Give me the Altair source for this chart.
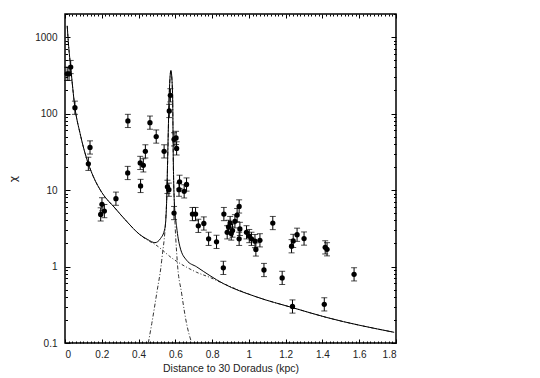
import altair as alt
import pandas as pd

# ---------------- data ----------------
pt_x = [0.012, 0.022, 0.031, 0.054, 0.127, 0.136, 0.194, 0.201, 0.214, 0.277,
        0.341, 0.342, 0.411, 0.409, 0.426, 0.437, 0.462, 0.496, 0.539, 0.557,
        0.565, 0.567, 0.573, 0.593, 0.604, 0.607, 0.593, 0.620, 0.623, 0.648,
        0.661, 0.693, 0.710, 0.725, 0.755, 0.781, 0.824, 0.861, 0.864, 0.882,
        0.889, 0.898, 0.904, 0.911, 0.924, 0.936, 0.947, 0.951, 0.947, 0.987,
        1.002, 1.014, 1.033, 1.038, 1.060, 1.082, 1.130, 1.181, 1.232, 1.241,
        1.262, 1.237, 1.300, 1.415, 1.425, 1.410, 1.572]
pt_y = [330, 330, 405, 119, 22, 36, 4.8, 6.5, 5.3, 7.7,
        16.7, 80, 11.3, 22.6, 21, 32, 76, 50, 32, 11,
        10.1, 108, 173, 46, 48, 35, 5.0, 10.1, 12.8, 9.6,
        11.8, 4.85, 4.85, 3.4, 3.65, 2.3, 2.1, 0.96, 4.85, 2.8,
        3.3, 3.7, 2.7, 2.95, 3.9, 4.7, 6.1, 3.1, 2.3, 2.8,
        2.5, 2.3, 2.15, 1.67, 2.2, 0.9, 3.7, 0.71, 1.84, 2.16,
        2.6, 0.30, 2.32, 1.78, 1.68, 0.32, 0.79]
ERR_FACTOR = 1.22  # error bars are about +/-0.085 dex

# total model (solid line)
model_x = [0.012, 0.020, 0.031, 0.054, 0.082, 0.127, 0.154, 0.200, 0.272, 0.335,
           0.408, 0.450, 0.489, 0.520, 0.543, 0.553, 0.558, 0.567, 0.576, 0.585,
           0.589, 0.594, 0.607, 0.625, 0.661, 0.716, 0.788, 0.860, 1.042, 1.237,
           1.422, 1.790]
model_y = [1400, 750, 400, 120, 55, 22, 15, 9.3, 5.8, 3.9,
           2.6, 2.25, 2.05, 2.33, 3.14, 7.4, 24.5, 182, 366, 182,
           24.5, 7.4, 3.3, 1.81, 1.21, 0.99, 0.76, 0.60, 0.40, 0.29,
           0.216, 0.138]

# smooth (power-law) component, dotted
pl_x = [0.012, 0.020, 0.031, 0.054, 0.082, 0.127, 0.154, 0.200, 0.272, 0.335,
        0.408, 0.450, 0.489, 0.589, 0.661, 0.716, 0.788, 0.860, 1.042, 1.237,
        1.422, 1.790]
pl_y = [1400, 750, 400, 120, 55, 22, 15, 9.3, 5.8, 3.9,
        2.6, 2.2, 1.95, 1.25, 0.98, 0.84, 0.72, 0.60, 0.40, 0.29,
        0.216, 0.138]

# peaked component, dash-dot
spike_x = [0.453, 0.472, 0.499, 0.526, 0.553, 0.558, 0.567, 0.576, 0.585, 0.589,
           0.594, 0.610, 0.634, 0.661, 0.689]
spike_y = [0.1, 0.18, 0.45, 1.21, 7.4, 22, 180, 360, 180, 22,
           7.4, 1.21, 0.45, 0.18, 0.1]

x_major = [0, 0.2, 0.4, 0.6, 0.8, 1.0, 1.2, 1.4, 1.6, 1.8]
y_major = [0.1, 1, 10, 100, 1000]

# ---------------- tables ----------------
pts = pd.DataFrame({"x": pt_x, "y": pt_y})
pts["lo"] = pts["y"] / ERR_FACTOR
pts["hi"] = pts["y"] * ERR_FACTOR
model = pd.DataFrame({"x": model_x, "y": model_y, "o": range(len(model_x))})
pl = pd.DataFrame({"x": pl_x, "y": pl_y, "o": range(len(pl_x))})
spike = pd.DataFrame({"x": spike_x, "y": spike_y, "o": range(len(spike_x))})

x_minor = [round(i * 0.02, 2) for i in range(91) if i % 10 != 0]
y_minor = [m * 10.0 ** e for e in range(-1, 4) for m in range(2, 10) if m * 10.0 ** e <= 2000]

W, H = 331, 329
FONT = "Liberation Sans"
xs = alt.Scale(domain=[0, 1.8], nice=False, zero=False)
ys = alt.Scale(type="log", domain=[0.1, 2000], nice=False)

x_lab_expr = "datum.value == 0 ? '0' : datum.value == 1 ? '1' : format(datum.value, '.1f')"
y_lab_expr = "datum.value >= 1 ? format(datum.value, 'd') : '0.1'"

ax_x_main = alt.Axis(orient="bottom", values=x_major, ticks=False, tickSize=0, domain=False,
                     grid=False, labelExpr=x_lab_expr, labelFont=FONT, labelFontSize=10,
                     labelColor="#222", labelPadding=6, titleFont=FONT, titleFontSize=10.5,
                     titleFontWeight="normal", titleColor="#222", titlePadding=4)
ax_y_main = alt.Axis(orient="left", values=y_major, ticks=False, tickSize=0, domain=False,
                     grid=False, labelExpr=y_lab_expr, labelFont=FONT, labelFontSize=10,
                     labelColor="#222", labelPadding=8, titleFont="DejaVu Sans", titleFontSize=11,
                     titleFontWeight="normal", titleColor="#222", titlePadding=16)


def tick_axis(orient, offset, values, size):
    return alt.Axis(orient=orient, offset=offset, values=values, tickSize=size, ticks=True,
                    labels=False, domain=False, grid=False, tickColor="black", tickWidth=1)


ax_x_bot_major = tick_axis("top", -H, x_major, 4)
ax_x_bot_minor = tick_axis("top", -H, x_minor, 2)
ax_x_top_major = tick_axis("bottom", -H, x_major, 4)
ax_x_top_minor = tick_axis("bottom", -H, x_minor, 2)
ax_y_left_major = tick_axis("right", -W, y_major, 5)
ax_y_left_minor = tick_axis("right", -W, y_minor, 2.5)
ax_y_right_major = tick_axis("left", -W, y_major, 5)
ax_y_right_minor = tick_axis("left", -W, y_minor, 2.5)

bars = alt.Chart(pts).mark_rule(color="black", strokeWidth=1).encode(
    x=alt.X("x:Q", scale=xs, axis=ax_x_main, title="Distance to 30 Doradus (kpc)"),
    y=alt.Y("lo:Q", scale=ys, axis=ax_y_main, title="χ"),
    y2="hi:Q",
)
cap_lo = alt.Chart(pts).mark_tick(orient="horizontal", color="black", size=6, thickness=1).encode(
    x=alt.X("x:Q", scale=xs, axis=ax_x_bot_major, title=None),
    y=alt.Y("lo:Q", scale=ys, axis=ax_y_left_major, title=None),
)
cap_hi = alt.Chart(pts).mark_tick(orient="horizontal", color="black", size=6, thickness=1).encode(
    x=alt.X("x:Q", scale=xs, axis=ax_x_bot_minor, title=None),
    y=alt.Y("hi:Q", scale=ys, axis=ax_y_left_minor, title=None),
)
points = alt.Chart(pts).mark_point(filled=True, shape="circle", size=28, color="black", opacity=1).encode(
    x=alt.X("x:Q", scale=xs, axis=ax_x_top_major, title=None),
    y=alt.Y("y:Q", scale=ys, axis=ax_y_right_major, title=None),
)
solid = alt.Chart(model).mark_line(color="black", strokeWidth=1, clip=True, interpolate="monotone").encode(
    x=alt.X("x:Q", scale=xs, axis=ax_x_top_minor, title=None),
    y=alt.Y("y:Q", scale=ys, axis=ax_y_right_minor, title=None),
    order="o:Q",
)
dotted = alt.Chart(pl).mark_line(color="#333", strokeWidth=1, strokeDash=[3, 2, 1, 2], clip=True,
                                 interpolate="monotone").encode(
    x=alt.X("x:Q", scale=xs, axis=None),
    y=alt.Y("y:Q", scale=ys, axis=None),
    order="o:Q",
)
peak = alt.Chart(spike).mark_line(color="#333", strokeWidth=1, strokeDash=[4, 2, 1, 2], clip=True,
                                  interpolate="monotone").encode(
    x=alt.X("x:Q", scale=xs, axis=None),
    y=alt.Y("y:Q", scale=ys, axis=None),
    order="o:Q",
)

chart = alt.layer(bars, cap_lo, cap_hi, dotted, peak, solid, points).resolve_axis(
    x="independent", y="independent"
).properties(
    width=W, height=H,
    autosize=alt.AutoSizeParams(type="none"),
    padding={"left": 57, "top": 6, "right": 20, "bottom": 34},
    background="white",
).configure_view(stroke="black", strokeWidth=1.5)

chart.save("out.html", embed_options={"renderer": "svg", "actions": False})
